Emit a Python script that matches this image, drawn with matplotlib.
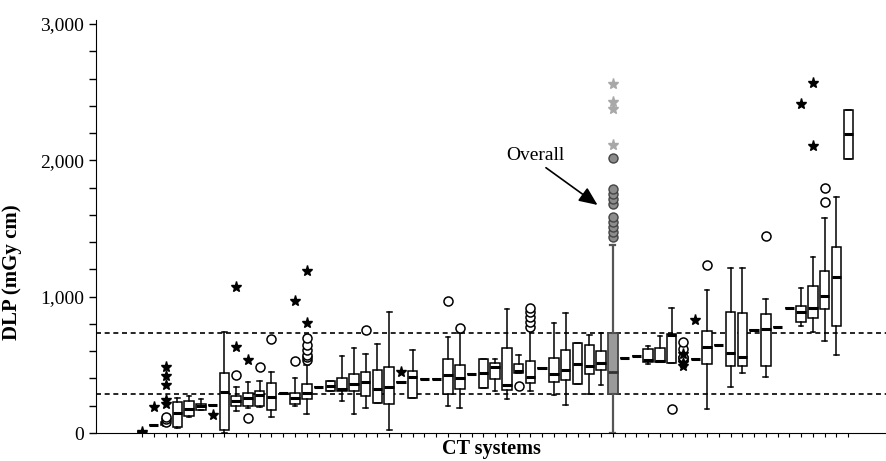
import matplotlib.pyplot as plt, numpy as np

plt.rcParams['font.family'] = ['Liberation Serif', 'DejaVu Serif']

# box statistics per CT system, DLP in mGy cm
q1 = [5, 60, 60, 45, 125, 170, 205, 20, 200, 200,
      200, 170, 290, 210, 250, 340, 310, 310, 310, 270,
      220, 210, 375, 255, 395, 395, 285, 320, 430, 330,
      395, 315, 440, 365, 475, 375, 390, 360, 430, 460,
      285, 550, 565, 520, 520, 515, 530, 545, 505, 645,
      490, 490, 755, 490, 775, 915, 815, 845, 910, 785,
      2010]
med = [5, 60, 70, 145, 175, 200, 205, 300, 235, 255,
       280, 265, 290, 255, 290, 340, 345, 320, 360, 375,
       320, 340, 375, 410, 395, 395, 425, 400, 430, 440,
       485, 350, 455, 410, 475, 430, 460, 505, 490, 515,
       450, 550, 565, 535, 525, 720, 545, 545, 630, 645,
       590, 555, 755, 765, 775, 915, 885, 915, 1005, 1145,
       2195]
q3 = [5, 60, 80, 230, 235, 210, 205, 440, 270, 290,
      310, 365, 290, 295, 360, 340, 380, 405, 430, 445,
      460, 485, 375, 455, 395, 395, 540, 500, 430, 540,
      515, 625, 505, 530, 475, 550, 610, 660, 645, 600,
      730, 550, 565, 615, 625, 725, 560, 545, 750, 645,
      885, 880, 755, 875, 775, 915, 930, 1080, 1190, 1365,
      2370]
whislo = [5, 60, 55, 40, 115, 170, 205, 0, 160, 180,
          190, 115, 290, 200, 140, 340, 310, 235, 140, 185,
          220, 20, 375, 255, 395, 395, 200, 185, 430, 330,
          310, 250, 440, 310, 475, 280, 205, 360, 285, 350,
          0, 550, 565, 505, 520, 515, 530, 545, 175, 645,
          335, 440, 755, 410, 775, 915, 785, 740, 675, 570,
          2010]
whishi = [5, 60, 90, 255, 270, 250, 205, 740, 340, 375,
          380, 445, 290, 405, 500, 340, 380, 565, 625, 580,
          655, 885, 375, 610, 395, 395, 705, 730, 430, 540,
          540, 910, 570, 760, 475, 805, 880, 660, 720, 735,
          1380, 550, 565, 640, 710, 915, 560, 545, 1050, 645,
          1210, 1210, 755, 985, 775, 915, 1065, 1290, 1580, 1730,
          2370]

# outliers: system number and value
circ_sys = [3, 3, 3, 9, 10, 11, 12, 14, 15, 15, 15, 15, 15, 15, 20, 27, 28, 33,
            34, 34, 34, 34, 34, 46, 47, 47, 47, 49, 54, 59, 59]
circ_val = [80, 100, 120, 425, 110, 485, 690, 530, 535, 555, 575, 610, 645, 695,
            755, 970, 770, 345, 780, 815, 850, 885, 920, 175, 555, 615, 665,
            1235, 1445, 1695, 1795]
star_sys = [1, 2, 3, 3, 3, 3, 3, 7, 9, 9, 10, 14, 15, 15, 23, 47, 47, 47, 48,
            57, 58, 58]
star_val = [5, 190, 215, 240, 355, 420, 485, 130, 630, 1070, 535, 970, 805,
            1190, 445, 495, 515, 580, 830, 2415, 2105, 2565]

# overall distribution (system 41)
overall = 41
overall_circ = [1440, 1475, 1510, 1550, 1585, 1680, 1715, 1755, 1790, 2015]
overall_star = [2115, 2380, 2430, 2560]

# reference band (overall quartiles)
band = [285, 730]

fig = plt.figure(figsize=(8.86, 4.61), dpi=100)
ax = fig.add_axes([96/886, 28/461, 790/886, 413/461])

n = len(med)
pos = np.arange(1, n + 1)
stats = []
for i in range(n):
    stats.append(dict(q1=q1[i], med=med[i], q3=q3[i], whislo=whislo[i],
                      whishi=whishi[i], fliers=[]))

normal = [i for i in range(n) if pos[i] != overall]
ax.bxp([stats[i] for i in normal], positions=pos[normal], widths=0.8,
       patch_artist=True, showfliers=False,
       boxprops=dict(facecolor='white', edgecolor='black', linewidth=1.1),
       medianprops=dict(color='black', linewidth=2.2),
       whiskerprops=dict(color='black', linewidth=1.1),
       capprops=dict(color='black', linewidth=1.1), zorder=3)

ax.bxp([stats[overall - 1]], positions=[overall], widths=0.8,
       patch_artist=True, showfliers=False,
       boxprops=dict(facecolor='#9a9a9a', edgecolor='#444444', linewidth=1.3),
       medianprops=dict(color='#333333', linewidth=2.0),
       whiskerprops=dict(color='#555555', linewidth=1.6),
       capprops=dict(color='#555555', linewidth=1.6), zorder=3)

ax.plot(circ_sys, circ_val, 'o', ms=6.5, mfc='white', mec='black', mew=1.1,
        ls='none', zorder=4)
ax.plot(star_sys, star_val, '*', ms=8, color='black', ls='none', zorder=4)
ax.plot([overall] * len(overall_circ), overall_circ, 'o', ms=6.5,
        mfc='#8c8c8c', mec='#444444', mew=1.0, ls='none', zorder=4)
ax.plot([overall] * len(overall_star), overall_star, '*', ms=8,
        color='#a8a8a8', ls='none', zorder=4)

for b in band:
    ax.axhline(b, color='black', lw=1.2, ls=(0, (3, 2.2)), zorder=2)

ax.annotate('Overall', xy=(39.7, 1673), xytext=(34.4, 2035),
            fontsize=14, ha='center', va='center',
            arrowprops=dict(arrowstyle='-|>,head_length=0.8,head_width=0.35',
                            color='black', lw=1.2, shrinkA=1, shrinkB=0,
                            relpos=(0.6, 0.0)))

ax.set_xlim(-2.91, 64.21)
ax.set_ylim(0, 3030)
ax.set_xticks(pos)
ax.set_xticklabels([])
ax.tick_params(axis='x', length=3, width=0.8)
ax.set_yticks([0, 1000, 2000, 3000])
ax.set_yticklabels(['0', '1,000', '2,000', '3,000'], fontsize=14)
ax.set_yticks(np.arange(0, 3001, 200), minor=True)
ax.tick_params(axis='y', which='both', length=5, width=1)
ax.spines['top'].set_visible(False)
ax.spines['right'].set_visible(False)
ax.set_ylabel('DLP (mGy cm)', fontsize=15, fontweight='bold')
ax.yaxis.set_label_coords(-0.094, 0.39)
ax.set_xlabel('CT systems', fontsize=14.5, fontweight='bold')
ax.xaxis.set_label_coords(0.5, -0.014)
ax.xaxis.label.set_va('top')

fig.savefig('out.png', dpi=100)
